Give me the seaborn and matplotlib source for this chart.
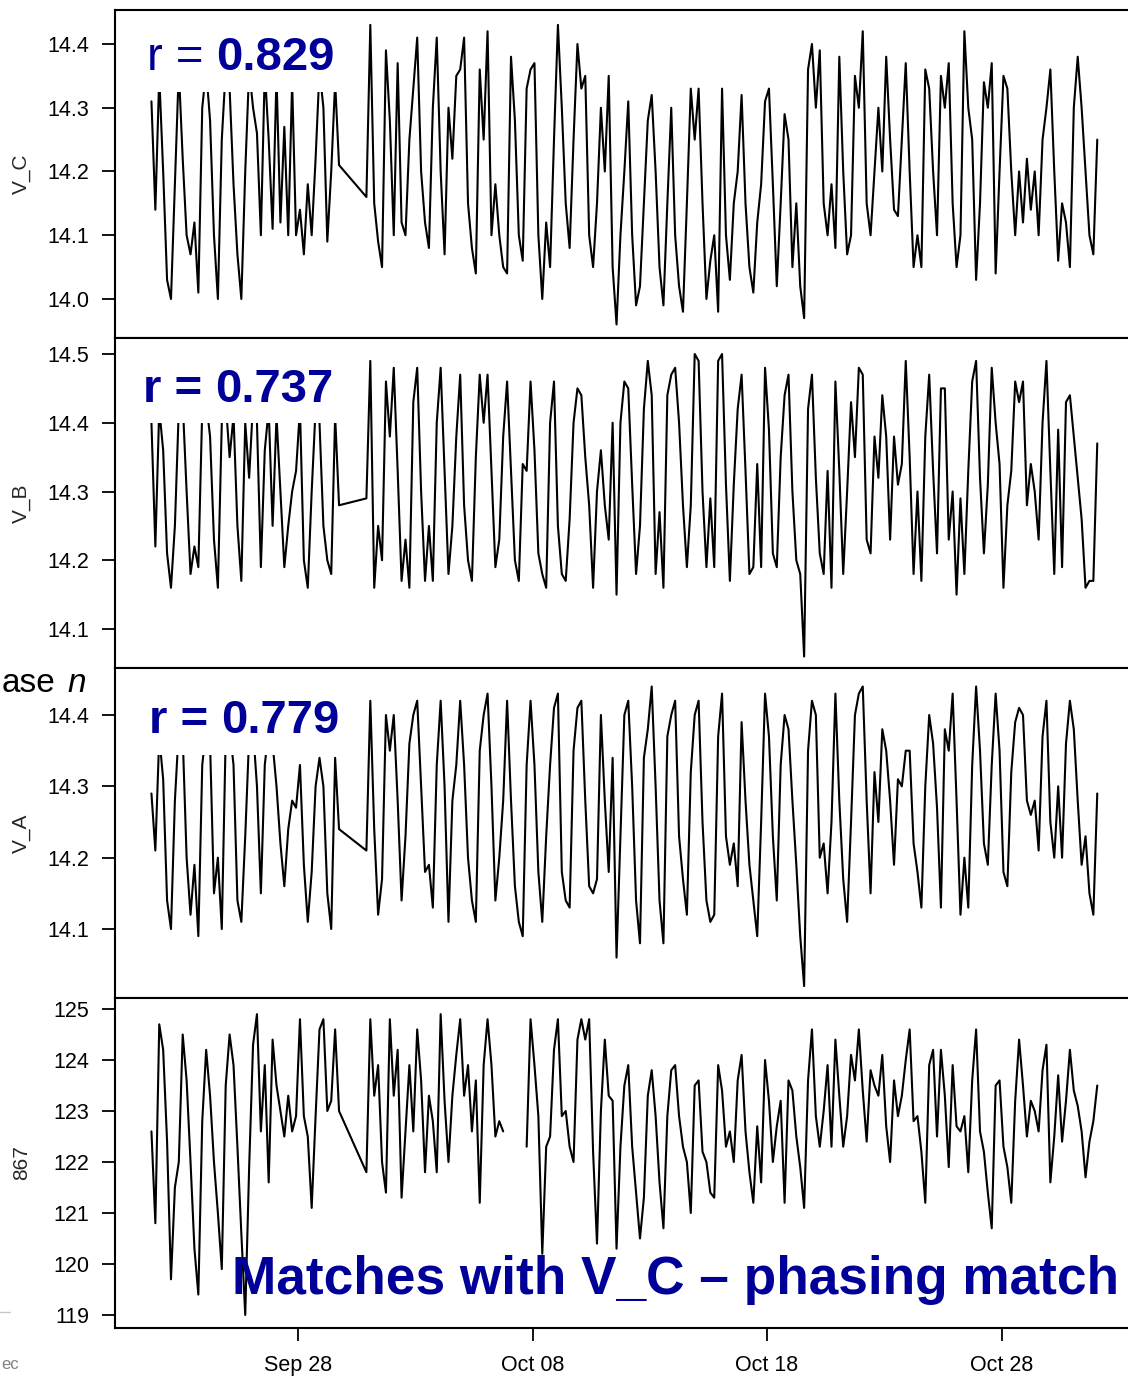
import matplotlib
matplotlib.use("Agg")
import matplotlib.pyplot as plt
import matplotlib.dates as mdates
from matplotlib.patches import Rectangle
from matplotlib.lines import Line2D
from matplotlib.ticker import FormatStrFormatter
import numpy as np
import pandas as pd
import seaborn as sns

N = np.nan

# readings every 4 hours starting 21 Sep 18:00 (gap = no data)
times = pd.date_range("2015-09-21 18:00", periods=243, freq="4h")

v_c = [14.31, 14.14, 14.35, 14.20, 14.03, 14.00, 14.18, 14.36, 14.22, 14.10,
       14.07, 14.12, 14.01, 14.30, 14.36, 14.28, 14.10, 14.00, 14.25, 14.36,
       14.33, 14.18, 14.07, 14.00, 14.20, 14.36, 14.30, 14.26, 14.10, 14.36,
       14.25, 14.11, 14.35, 14.12, 14.27, 14.10, 14.34, 14.10, 14.14, 14.07,
       14.18, 14.10, 14.22, 14.36, 14.30, 14.09, 14.20, 14.34, 14.21, N,
       N, N, N, N, N, 14.16, 14.43, 14.15, 14.09, 14.05,
       14.39, 14.28, 14.10, 14.37, 14.12, 14.10, 14.25, 14.33, 14.41, 14.20,
       14.12, 14.08, 14.30, 14.41, 14.20, 14.07, 14.30, 14.22, 14.35, 14.36,
       14.41, 14.15, 14.08, 14.04, 14.36, 14.25, 14.42, 14.10, 14.18, 14.10,
       14.05, 14.04, 14.38, 14.28, 14.10, 14.06, 14.33, 14.36, 14.37, 14.10,
       14.00, 14.12, 14.05, 14.25, 14.43, 14.30, 14.15, 14.08, 14.25, 14.40,
       14.33, 14.35, 14.10, 14.05, 14.15, 14.30, 14.20, 14.35, 14.05, 13.96,
       14.10, 14.20, 14.31, 14.10, 13.99, 14.02, 14.15, 14.28, 14.32, 14.20,
       14.05, 13.99, 14.15, 14.30, 14.10, 14.02, 13.98, 14.15, 14.33, 14.25,
       14.33, 14.15, 14.00, 14.06, 14.10, 13.98, 14.33, 14.10, 14.03, 14.15,
       14.20, 14.32, 14.15, 14.05, 14.01, 14.12, 14.18, 14.31, 14.33, 14.18,
       14.02, 14.15, 14.29, 14.25, 14.05, 14.15, 14.02, 13.97, 14.36, 14.40,
       14.30, 14.39, 14.15, 14.10, 14.18, 14.08, 14.38, 14.20, 14.07, 14.10,
       14.35, 14.30, 14.42, 14.15, 14.10, 14.20, 14.30, 14.20, 14.38, 14.25,
       14.14, 14.13, 14.25, 14.37, 14.20, 14.05, 14.10, 14.05, 14.36, 14.33,
       14.20, 14.10, 14.35, 14.30, 14.37, 14.15, 14.05, 14.10, 14.42, 14.30,
       14.25, 14.03, 14.15, 14.34, 14.30, 14.37, 14.04, 14.20, 14.35, 14.33,
       14.20, 14.10, 14.20, 14.12, 14.22, 14.14, 14.20, 14.10, 14.25, 14.30,
       14.36, 14.20, 14.06, 14.15, 14.12, 14.05, 14.30, 14.38, 14.30, 14.20,
       14.10, 14.07, 14.25]

v_b = [14.40, 14.22, 14.42, 14.36, 14.21, 14.16, 14.25, 14.42, 14.43, 14.30,
       14.18, 14.22, 14.19, 14.42, 14.43, 14.38, 14.23, 14.16, 14.40, 14.43,
       14.35, 14.41, 14.25, 14.17, 14.40, 14.32, 14.43, 14.40, 14.19, 14.36,
       14.42, 14.25, 14.41, 14.30, 14.19, 14.25, 14.30, 14.33, 14.42, 14.20,
       14.16, 14.30, 14.42, 14.40, 14.25, 14.20, 14.18, 14.41, 14.28, N,
       N, N, N, N, N, 14.29, 14.49, 14.16, 14.25, 14.20,
       14.46, 14.38, 14.48, 14.33, 14.17, 14.23, 14.16, 14.43, 14.48, 14.30,
       14.17, 14.25, 14.17, 14.40, 14.48, 14.33, 14.18, 14.25, 14.38, 14.47,
       14.28, 14.20, 14.17, 14.35, 14.47, 14.40, 14.47, 14.33, 14.19, 14.23,
       14.38, 14.46, 14.33, 14.20, 14.17, 14.34, 14.33, 14.46, 14.36, 14.21,
       14.18, 14.16, 14.40, 14.46, 14.25, 14.18, 14.17, 14.26, 14.40, 14.45,
       14.44, 14.35, 14.28, 14.16, 14.30, 14.36, 14.28, 14.23, 14.40, 14.15,
       14.40, 14.46, 14.45, 14.31, 14.18, 14.25, 14.42, 14.49, 14.44, 14.18,
       14.27, 14.16, 14.44, 14.47, 14.48, 14.40, 14.28, 14.19, 14.28, 14.50,
       14.49, 14.30, 14.19, 14.29, 14.19, 14.49, 14.50, 14.31, 14.17, 14.31,
       14.42, 14.47, 14.33, 14.18, 14.19, 14.34, 14.19, 14.48, 14.39, 14.21,
       14.19, 14.35, 14.44, 14.47, 14.30, 14.20, 14.18, 14.06, 14.42, 14.47,
       14.32, 14.21, 14.18, 14.33, 14.16, 14.46, 14.33, 14.18, 14.30, 14.43,
       14.35, 14.48, 14.47, 14.23, 14.21, 14.38, 14.32, 14.44, 14.38, 14.23,
       14.38, 14.31, 14.34, 14.49, 14.35, 14.18, 14.30, 14.17, 14.38, 14.47,
       14.33, 14.21, 14.45, 14.45, 14.23, 14.30, 14.15, 14.29, 14.18, 14.33,
       14.46, 14.49, 14.32, 14.21, 14.31, 14.48, 14.40, 14.34, 14.16, 14.28,
       14.33, 14.46, 14.43, 14.46, 14.28, 14.34, 14.30, 14.23, 14.40, 14.49,
       14.33, 14.18, 14.39, 14.19, 14.43, 14.44, 14.38, 14.32, 14.26, 14.16,
       14.17, 14.17, 14.37]

v_a = [14.29, 14.21, 14.37, 14.31, 14.14, 14.10, 14.28, 14.38, 14.37, 14.20,
       14.12, 14.19, 14.09, 14.33, 14.38, 14.36, 14.15, 14.20, 14.10, 14.37,
       14.38, 14.33, 14.14, 14.11, 14.23, 14.37, 14.38, 14.30, 14.15, 14.33,
       14.38, 14.36, 14.30, 14.22, 14.16, 14.24, 14.28, 14.27, 14.33, 14.19,
       14.11, 14.18, 14.30, 14.34, 14.30, 14.15, 14.10, 14.34, 14.24, N,
       N, N, N, N, N, 14.21, 14.42, 14.24, 14.12, 14.17,
       14.40, 14.35, 14.40, 14.28, 14.14, 14.23, 14.36, 14.40, 14.42, 14.30,
       14.18, 14.19, 14.13, 14.33, 14.42, 14.30, 14.11, 14.28, 14.33, 14.42,
       14.33, 14.20, 14.14, 14.11, 14.35, 14.40, 14.43, 14.30, 14.14, 14.20,
       14.28, 14.42, 14.28, 14.16, 14.11, 14.09, 14.33, 14.42, 14.33, 14.18,
       14.11, 14.23, 14.33, 14.41, 14.43, 14.18, 14.14, 14.13, 14.35, 14.41,
       14.42, 14.28, 14.16, 14.15, 14.17, 14.40, 14.28, 14.18, 14.34, 14.06,
       14.23, 14.40, 14.42, 14.30, 14.14, 14.08, 14.34, 14.38, 14.44, 14.30,
       14.14, 14.08, 14.37, 14.40, 14.42, 14.23, 14.17, 14.12, 14.32, 14.40,
       14.42, 14.25, 14.14, 14.11, 14.12, 14.37, 14.43, 14.23, 14.19, 14.22,
       14.16, 14.39, 14.28, 14.19, 14.14, 14.09, 14.25, 14.43, 14.37, 14.23,
       14.14, 14.33, 14.40, 14.38, 14.28, 14.19, 14.09, 14.02, 14.35, 14.42,
       14.40, 14.20, 14.22, 14.15, 14.25, 14.43, 14.28, 14.17, 14.11, 14.25,
       14.40, 14.43, 14.44, 14.28, 14.15, 14.32, 14.25, 14.38, 14.35, 14.28,
       14.19, 14.31, 14.30, 14.35, 14.35, 14.22, 14.18, 14.13, 14.30, 14.40,
       14.36, 14.27, 14.13, 14.38, 14.35, 14.43, 14.28, 14.12, 14.20, 14.13,
       14.33, 14.44, 14.35, 14.22, 14.19, 14.33, 14.43, 14.35, 14.18, 14.16,
       14.32, 14.39, 14.41, 14.40, 14.28, 14.26, 14.28, 14.21, 14.37, 14.42,
       14.25, 14.20, 14.30, 14.20, 14.36, 14.42, 14.38, 14.28, 14.19, 14.23,
       14.15, 14.12, 14.29]

s_867 = [122.6, 120.8, 124.7, 124.2, 122.4, 119.7, 121.5, 122.0, 124.5, 123.6,
         122.0, 120.3, 119.4, 122.8, 124.2, 123.3, 122.0, 121.0, 119.9, 123.5,
         124.5, 123.9, 122.3, 120.6, 119.0, 121.9, 124.3, 124.9, 122.6, 123.9,
         121.6, 124.4, 123.5, 123.0, 122.5, 123.3, 122.6, 122.9, 124.8, 122.9,
         122.5, 121.1, 122.9, 124.6, 124.8, 123.0, 123.2, 124.6, 123.0, N,
         N, N, N, N, N, 121.8, 124.8, 123.3, 123.9, 122.0,
         121.4, 124.8, 123.3, 124.2, 121.3, 122.6, 123.9, 122.6, 124.6, 123.6,
         121.8, 123.3, 122.8, 121.8, 124.9, 123.2, 122.0, 123.3, 124.1, 124.8,
         123.3, 123.9, 122.6, 123.6, 121.2, 123.9, 124.8, 123.9, 122.5, 122.8,
         122.6, N, N, N, N, N, 122.3, 124.8, 123.9, 122.9,
         120.2, 122.3, 122.5, 124.2, 124.8, 122.9, 123.0, 122.3, 122.0, 124.4,
         124.8, 124.4, 124.8, 122.2, 120.4, 123.0, 124.4, 123.3, 123.2, 120.3,
         122.3, 123.5, 123.9, 122.3, 121.4, 120.5, 121.3, 123.3, 123.8, 122.9,
         121.6, 120.7, 122.9, 123.8, 123.9, 122.9, 122.3, 122.0, 121.0, 123.5,
         123.6, 122.2, 122.0, 121.4, 121.3, 123.9, 123.4, 122.3, 122.6, 122.0,
         123.6, 124.1, 122.6, 121.8, 121.2, 122.7, 121.6, 124.0, 123.2, 122.0,
         122.7, 123.2, 121.2, 123.6, 123.4, 122.5, 121.9, 121.1, 123.6, 124.6,
         122.9, 122.3, 123.0, 123.9, 122.3, 124.4, 123.3, 122.3, 122.9, 124.1,
         123.6, 124.6, 123.4, 122.4, 123.8, 123.5, 123.3, 124.1, 122.7, 122.0,
         123.6, 122.9, 123.3, 124.0, 124.6, 122.8, 122.9, 122.2, 121.2, 123.9,
         124.2, 122.5, 124.2, 123.3, 121.9, 123.9, 122.7, 122.6, 122.9, 121.8,
         123.6, 124.6, 122.6, 122.2, 121.4, 120.7, 123.5, 123.6, 122.3, 121.9,
         121.2, 123.2, 124.4, 123.5, 122.5, 123.2, 123.0, 122.6, 123.8, 124.3,
         121.6, 122.5, 123.7, 122.4, 123.2, 124.2, 123.4, 123.1, 122.6, 121.7,
         122.4, 122.8, 123.5]

# the 867 logger has a break (no connecting line) from 6 Oct 20:00
break_867 = pd.Timestamp("2015-10-07 00:00")

sns.set_theme(style="ticks")
plt.rcParams["font.family"] = ["Liberation Sans", "DejaVu Sans"]

NAVY = "#000099"
W, H = 1128, 1380
fig = plt.figure(figsize=(W / 100, H / 100), dpi=100)

x_left = mdates.date2num(pd.Timestamp("2015-09-28")) - 7.804
x_right = mdates.date2num(pd.Timestamp("2015-09-28")) + 35.906

panels = [
    # name, values, ylim, yticks, fmt, top px, r label parts, label pos, box bottom
    ("V_C", v_c, (13.9388, 14.4533), [14.0, 14.1, 14.2, 14.3, 14.4], "%.1f", 10,
     ("r = ", "0.829"), (0.031, 0.817), 0.750),
    ("V_B", v_b, (14.0433, 14.5233), [14.1, 14.2, 14.3, 14.4, 14.5], "%.1f", 338,
     ("r = ", "0.737"), (0.027, 0.806), 0.742),
    ("V_A", v_a, (14.0033, 14.4659), [14.1, 14.2, 14.3, 14.4], "%.1f", 668,
     ("r = ", "0.779"), (0.033, 0.803), 0.736),
    ("867", s_867, (118.745, 125.216), [119, 120, 121, 122, 123, 124, 125], "%d", 998,
     None, None, None),
]
bottoms = [338, 668, 998, 1328]

for k, (name, vals, ylim, yticks, fmt, top, rlab, rpos, box_y) in enumerate(panels):
    ax = fig.add_axes([115 / W, 1 - bottoms[k] / H, 1025 / W, (bottoms[k] - top) / H])
    df = pd.DataFrame({"time": times, "val": vals})
    df["seg"] = 0
    if name == "867":
        df.loc[df["time"] > break_867, "seg"] = 1
    df = df.dropna()
    sns.lineplot(data=df, x="time", y="val", units="seg", estimator=None,
                 color="black", lw=1.5, ax=ax, legend=False)

    ax.set_xlim(x_left, x_right)
    ax.set_ylim(*ylim)
    ax.set_yticks(yticks)
    ax.yaxis.set_major_formatter(FormatStrFormatter(fmt))
    ax.set_xlabel("")
    ax.set_ylabel(name, fontsize=15)
    ax.yaxis.set_label_coords(-0.082, 0.5)
    for sp in ax.spines.values():
        sp.set_visible(True)
        sp.set_linewidth(1.5)
        sp.set_color("black")
    ax.tick_params(axis="y", direction="out", length=9.5, width=1.3, pad=9,
                   labelsize=15.5, colors="black")
    if name == "867":
        ax.set_xticks(mdates.date2num(pd.to_datetime(
            ["2015-09-28", "2015-10-08", "2015-10-18", "2015-10-28"])))
        ax.xaxis.set_major_formatter(mdates.DateFormatter("%b %d"))
        ax.tick_params(axis="x", direction="out", length=9.5, width=1.3, pad=10,
                       labelsize=15.5, colors="black")
    else:
        ax.tick_params(axis="x", bottom=False, labelbottom=False)

    if rlab is not None:
        ax.add_patch(Rectangle((0.022, box_y), 0.1985, 0.97 - box_y,
                               transform=ax.transAxes, facecolor="white",
                               edgecolor="none", zorder=3))
        w0 = "normal" if name == "V_C" else "bold"
        t = ax.text(rpos[0], rpos[1], rlab[0], transform=ax.transAxes,
                    fontsize=34, fontweight=w0, color=NAVY, va="baseline",
                    ha="left", zorder=4)
        ax.annotate(rlab[1], xy=(1, 0), xycoords=t, fontsize=34,
                    fontweight="bold", color=NAVY, va="bottom", ha="left",
                    zorder=4)

fig.text(232 / W, 1 - 1294 / H, "Matches with V_C \u2013 phasing match",
         fontsize=38.3, fontweight="bold", color=NAVY, va="baseline", ha="left")

# fragments of the slide behind the chart
fig.text(55 / W, 1 - 692 / H, "ase", fontsize=24, color="black",
         va="baseline", ha="right")
fig.text(67 / W, 1 - 692 / H, "n", fontsize=24, style="italic", color="black",
         va="baseline", ha="left")
fig.text(1 / W, 1 - 1369 / H, "ec", fontsize=12, color="#808080",
         va="baseline", ha="left")
fig.add_artist(Line2D([0, 10 / W], [1 - 1312 / H, 1 - 1312 / H],
                      transform=fig.transFigure, color="#c8c8c8", lw=1))

fig.savefig("out.png", dpi=100)
